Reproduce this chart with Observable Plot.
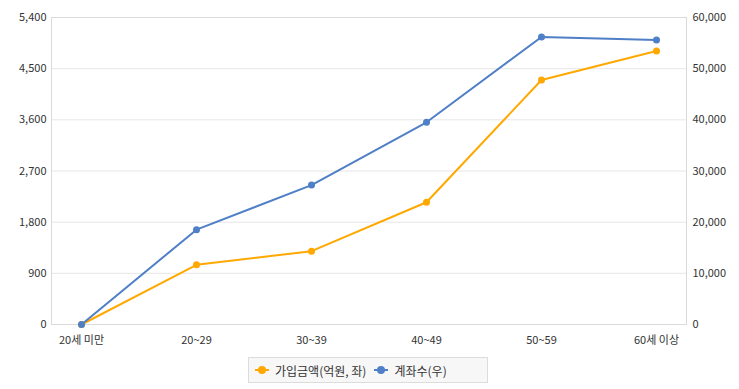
<!DOCTYPE html>
<html>
<head>
<meta charset="utf-8">
<script src="https://cdn.jsdelivr.net/npm/d3@7"></script>
<script src="https://cdn.jsdelivr.net/npm/@observablehq/plot@0.6"></script>
<style>
  html, body { margin: 0; padding: 0; background: #fff; }
  body { width: 739px; height: 389px; position: relative; overflow: hidden; font-family: "Noto Sans CJK KR", "Noto Sans", sans-serif; }
  #legend { position: absolute; left: 248px; top: 357px; width: 238px; height: 24px; background: #f7f7f7; border: 1px solid #dcdcdc; font-size: 12px; color: #333; display: flex; align-items: center; }
  .item { display: flex; align-items: center; margin-left: 6px; }
  .item svg { margin-right: 6px; }
</style>
</head>
<body>
<div id="chart"></div>
<div id="legend"></div>
<script>
const categories = ["20세 미만", "20~29", "30~39", "40~49", "50~59", "60세 이상"];
const amount = [0, 1050, 1290, 2150, 4300, 4810];          // 가입금액(억원, 좌)
const accounts = [0, 18530, 27250, 39520, 56200, 55620];   // 계좌수(우)
const leftTicks = [0, 900, 1800, 2700, 3600, 4500, 5400];
const rightTicks = [0, 10000, 20000, 30000, 40000, 50000, 60000];
const seriesNames = ["가입금액(억원, 좌)", "계좌수(우)"];
const colors = ["#ffa800", "#4f7fc6"];

const leftMax = 5400, rightMax = 60000;
const k = leftMax / rightMax;

const amountData = categories.map((c, i) => ({cat: c, v: amount[i]}));
const accountData = categories.map((c, i) => ({cat: c, v: accounts[i] * k}));

const fmt = d3.format(",");

const chart = Plot.plot({
  width: 739,
  height: 352,
  marginLeft: 51,
  marginRight: 53,
  marginTop: 17,
  marginBottom: 28,
  style: {fontFamily: "'Noto Sans CJK KR', 'Noto Sans', sans-serif", fontSize: "11px", color: "#333"},
  x: {type: "point", domain: categories, padding: 0.255, label: null},
  y: {domain: [0, leftMax], label: null},
  marks: [
    Plot.gridY(leftTicks, {stroke: "#e6e6e6", strokeOpacity: 1}),
    Plot.frame({stroke: "#dadada"}),
    Plot.axisY(leftTicks, {anchor: "left", tickSize: 0, tickPadding: 5, tickFormat: fmt, fill: "#333", label: null}),
    Plot.axisY(rightTicks.map(d => d * k), {anchor: "right", tickSize: 0, tickPadding: 6, tickFormat: d => fmt(Math.round(d / k)), fill: "#333", label: null}),
    Plot.axisX({tickSize: 0, tickPadding: 12, fill: "#333", label: null}),
    Plot.line(amountData, {x: "cat", y: "v", stroke: colors[0], strokeWidth: 2}),
    Plot.line(accountData, {x: "cat", y: "v", stroke: colors[1], strokeWidth: 2}),
    Plot.dot(amountData, {x: "cat", y: "v", fill: colors[0], r: 3.5}),
    Plot.dot(accountData, {x: "cat", y: "v", fill: colors[1], r: 3.5})
  ]
});
document.getElementById("chart").appendChild(chart);

const legend = document.getElementById("legend");
seriesNames.forEach((name, i) => {
  const item = document.createElement("div");
  item.className = "item";
  item.innerHTML = `<svg width="14" height="10"><line x1="0" y1="5" x2="14" y2="5" stroke="${colors[i]}" stroke-width="2"/><circle cx="7" cy="5" r="4" fill="${colors[i]}"/></svg><span>${name}</span>`;
  if (i === 1) item.style.marginLeft = "8px";
  legend.appendChild(item);
});
</script>
</body>
</html>
